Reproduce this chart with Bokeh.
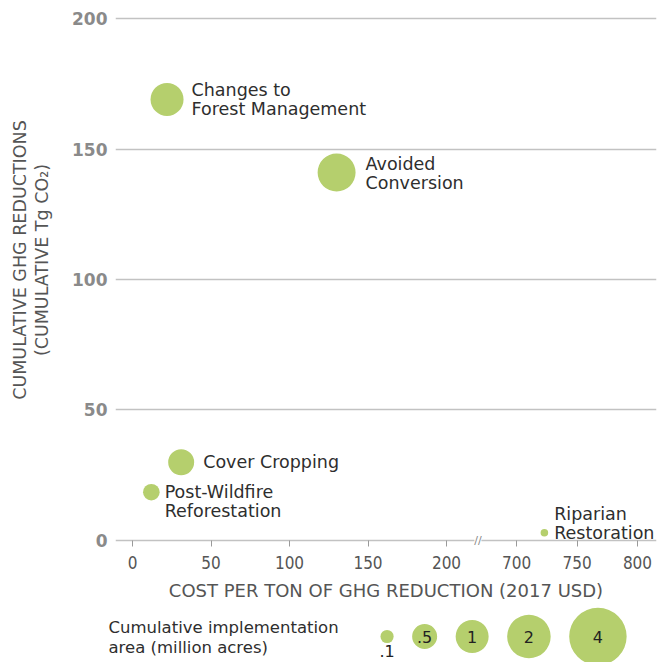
import numpy as np
from bokeh.plotting import figure
from bokeh.models import Range1d, FixedTicker, Title
from bokeh.layouts import column
from bokeh.embed import file_html
from bokeh.resources import INLINE
from bokeh.core.properties import value

# ---------------- data ----------------
practices = ["Changes to\nForest Management", "Avoided\nConversion", "Cover Cropping",
             "Post-Wildfire\nReforestation", "Riparian\nRestoration"]
cost_usd = [22, 130, 31, 12, 723]            # cost per ton (2017 USD)
ghg_reduction = [169, 141, 30, 18.5, 3]      # cumulative Tg CO2
area_macres = [1.0, 1.42, 0.55, 0.18, 0.025] # million acres

x_ticks = [0, 50, 100, 150, 200, 700, 750, 800]
x_tick_labels = ["0", "50", "100", "150", "200", "700", "750", "800"]
y_ticks = [0, 50, 100, 150, 200]

legend_areas = [0.1, 0.5, 1, 2, 4]
legend_labels = [".1", ".5", "1", "2", "4"]
legend_caption = "Cumulative implementation\narea (million acres)"
y_title_lines = ["CUMULATIVE GHG REDUCTIONS", "(CUMULATIVE Tg CO\u2082)"]
x_title = "COST PER TON OF GHG REDUCTION (2017 USD)"

# ---------------- styling ----------------
GREEN = "#b5cf6d"
TEXT = "#2e2e2e"
GRID = "#c2c2c2"
R1, EXPO = 16.5, 0.4          # bubble radius (px) for 1 million acres, exponent
BREAK_LO, BREAK_HI, RIGHT_RATIO = 220.0, 668.0, 0.77
W = 667
FRAME_L, FRAME_R = 115, 656
H_MAIN, H_LEG = 604, 58
TITLE_PAD = "\u00a0" * 7      # lifts the rotated y title above the frame centre


def broken(x):
    x = np.asarray(x, dtype=float)
    return np.where(x <= BREAK_LO, x, BREAK_LO + (x - BREAK_HI) * RIGHT_RATIO)


def radius(a):
    return R1 * np.asarray(a, dtype=float) ** EXPO


# ---------------- main chart ----------------
p = figure(width=W, height=H_MAIN, output_backend="svg", toolbar_location=None,
           x_range=Range1d(-10.83, 333.76), y_range=Range1d(-2.3, 202.3),
           min_border_left=FRAME_L, min_border_right=W - FRAME_R,
           min_border_top=12, min_border_bottom=58)
p.outline_line_color = None
p.background_fill_color = "white"
p.xgrid.grid_line_color = None
p.ygrid.ticker = FixedTicker(ticks=y_ticks)
p.ygrid.grid_line_color = GRID
p.ygrid.grid_line_width = 1.3

# y axis
p.yaxis.ticker = FixedTicker(ticks=y_ticks)
p.yaxis.axis_line_color = None
p.yaxis.major_tick_line_color = None
p.yaxis.major_tick_in = 0
p.yaxis.major_tick_out = 0
p.yaxis.minor_tick_line_color = None
p.yaxis.major_label_text_font = "DejaVu Sans"
p.yaxis.major_label_text_font_style = "bold"
p.yaxis.major_label_text_font_size = "17px"
p.yaxis.major_label_text_color = "#8a8a8a"
p.yaxis.major_label_standoff = 8

# y title: a thin spacer panel, then two stacked rotated titles (inner line first)
p.add_layout(Title(text="\u00a0", standoff=0, text_font_size="14.7px",
                   text_line_height=1.0), "left")
for line in reversed(y_title_lines):
    p.add_layout(Title(text=TITLE_PAD + line, align="center", offset=0, standoff=0,
                       text_font="DejaVu Sans", text_font_style="normal",
                       text_font_size="17.5px", text_color="#555555",
                       text_line_height=1.0), "left")

# x axis (broken scale)
xt = [float(v) for v in broken(x_ticks)]
p.xaxis.ticker = FixedTicker(ticks=xt)
p.xaxis.major_label_overrides = {t: lab for t, lab in zip(xt, x_tick_labels)}
p.xaxis.axis_line_color = None
p.xaxis.major_tick_in = 6
p.xaxis.major_tick_out = 0
p.xaxis.major_tick_line_color = "#9a9a9a"
p.xaxis.minor_tick_line_color = None
p.xaxis.major_label_text_font = "DejaVu Sans Condensed"
p.xaxis.major_label_text_font_size = "17px"
p.xaxis.major_label_text_color = "#555555"
p.xaxis.major_label_standoff = 9
p.xaxis.axis_label = x_title
p.xaxis.axis_label_text_font = "DejaVu Sans"
p.xaxis.axis_label_text_font_style = "normal"
p.xaxis.axis_label_text_font_size = "18px"
p.xaxis.axis_label_text_color = "#555555"
p.xaxis.axis_label_standoff = 8

# axis break marker
p.rect(x=[BREAK_LO], y=[0], width=7, height=6, width_units="screen", height_units="screen",
       fill_color="white", line_color=None)
p.text(x=[BREAK_LO], y=[0], text=["//"], text_align="center", text_baseline="middle",
       text_font=value("DejaVu Sans"), text_font_size="11px", text_color="#888888")

# bubbles
xs = broken(cost_usd)
rs = radius(area_macres)
p.scatter(x=xs, y=ghg_reduction, size=2 * rs, fill_color=GREEN, line_color=None)

gaps = [8, 10, 9, 5, 6]
y_shift = [0, 1, 0, 9, -9.5]
p.text(x=xs, y=ghg_reduction, text=practices,
       x_offset=[r + g for r, g in zip(rs, gaps)], y_offset=y_shift,
       text_align="left", text_baseline="middle",
       text_font=value("DejaVu Sans"), text_font_size="17.5px",
       text_color=TEXT, text_line_height=0.96)

# ---------------- size legend ----------------
free = "frame_align" in p.properties()
if free:
    p.frame_align = False
    lx0, lx1, lb_l, lb_r = 0, W, 0, 0
else:
    lx0, lx1, lb_l, lb_r = FRAME_L, FRAME_R, FRAME_L, W - FRAME_R

lg = figure(width=W, height=H_LEG, output_backend="svg", toolbar_location=None,
            x_range=Range1d(lx0, lx1), y_range=Range1d(H_LEG, 0),
            x_axis_location=None, y_axis_location=None,
            min_border_left=lb_l, min_border_right=lb_r,
            min_border_top=0, min_border_bottom=0)
if free:
    lg.frame_align = False
lg.outline_line_color = None
lg.grid.grid_line_color = None

lr = radius(legend_areas)
LEG_LEFT, LEG_GAP, LEG_CY = 380.0, 18.5, 32.0
cx = []
edge = LEG_LEFT
for r in lr:
    cx.append(edge + r)
    edge = edge + 2 * r + LEG_GAP
lg.scatter(x=cx, y=[LEG_CY] * len(cx), size=2 * lr, fill_color=GREEN, line_color=None)
lg.text(x=cx[1:], y=[LEG_CY] * (len(cx) - 1), text=legend_labels[1:],
        text_align="center", text_baseline="middle",
        text_font=value("DejaVu Sans"), text_font_size="16px", text_color="#222222")
lg.text(x=cx[:1], y=[LEG_CY + lr[0] + 2], text=legend_labels[:1],
        text_align="center", text_baseline="top",
        text_font=value("DejaVu Sans"), text_font_size="16px", text_color="#222222")
lg.text(x=[max(108, lx0 + 1)], y=[LEG_CY + 1], text=[legend_caption],
        text_align="left", text_baseline="middle",
        text_font=value("DejaVu Sans"), text_font_size="16.5px", text_color=TEXT,
        text_line_height=1.05)

layout = column(p, lg, spacing=0)
open("out.html", "w").write(file_html(layout, INLINE))
